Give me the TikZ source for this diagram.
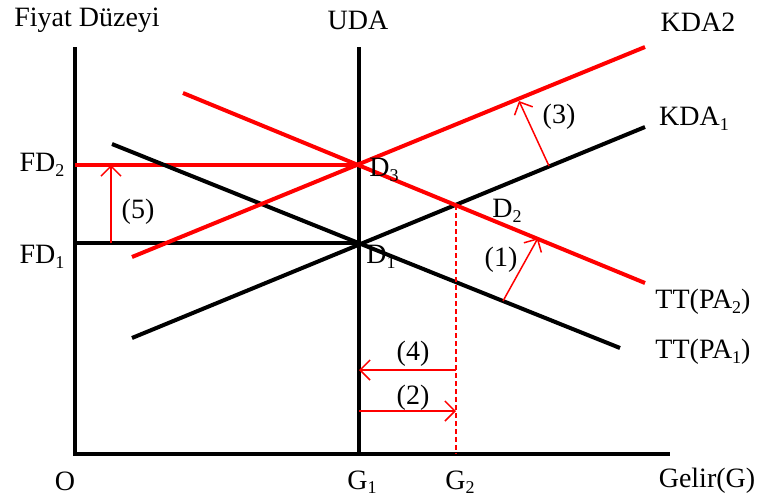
\documentclass[tikz,border=0pt]{standalone}
\usepackage{fontspec}
\setmainfont{Liberation Serif}
\usetikzlibrary{arrows.meta}
\newcommand\lowsub[1]{\raisebox{-0.35ex}{\fontsize{18}{20}\selectfont #1}}
\begin{document}
\begin{tikzpicture}[x=1pt,y=-1pt,
  lbl/.style={inner sep=0pt,font=\fontsize{28}{32}\selectfont},
  blk/.style={black,line width=4pt},
  redthick/.style={red,line width=4pt},
  shiftarrow/.style={red,line width=1.5pt,-{Straight Barb[length=10pt,width=20pt,line width=1.5pt]}},
  dashline/.style={red,line width=1.5pt,dash pattern=on 5pt off 3pt}]
\useasboundingbox (0,0) rectangle (759,498);
% coordinates
\coordinate (ytop) at (75,47);
\coordinate (O) at (75,454);
\coordinate (xend) at (670,454);
\coordinate (udatop) at (359,47);
\coordinate (G1) at (359,454);
\coordinate (G2) at (456,454);
\coordinate (D1) at (359,243);
\coordinate (D3) at (359,165);
\coordinate (D2) at (456,205);
\coordinate (fd1) at (75,243);
\coordinate (fd2) at (75,165);
\coordinate (tt1s) at (112,144);
\coordinate (tt1e) at (620,348);
\coordinate (tt2s) at (183,93);
\coordinate (tt2e) at (645,283);
\coordinate (k1s) at (132,338);
\coordinate (k1e) at (645,127);
\coordinate (k2s) at (132,257);
\coordinate (k2e) at (645,47);
\coordinate (a1s) at (503,301);
\coordinate (a1e) at (538,238);
\coordinate (a3s) at (549,166);
\coordinate (a3e) at (519,101);
\coordinate (a5s) at (111,243);
\coordinate (a5e) at (111,165);
\coordinate (a4s) at (456,370);
\coordinate (a4e) at (359,370);
\coordinate (a2s) at (359,411);
\coordinate (a2e) at (456,411);
% axes
\draw[blk] (ytop) -- (O) -- (xend);
\draw[blk] (udatop) -- (G1);
% price levels
\draw[blk] (fd1) -- (D1);
\draw[redthick] (fd2) -- (D3);
% curves
\draw[blk] (tt1s) -- (tt1e);
\draw[blk] (k1s) -- (k1e);
\draw[redthick] (tt2s) -- (tt2e);
\draw[redthick] (k2s) -- (k2e);
% dashed
\draw[dashline] (D2) -- (G2);
% shift arrows
\draw[shiftarrow] (a1s) -- (a1e);
\draw[shiftarrow] (a3s) -- (a3e);
\draw[shiftarrow] (a5s) -- (a5e);
\draw[shiftarrow] (a4s) -- (a4e);
\draw[shiftarrow] (a2s) -- (a2e);
% labels
\node[lbl] (tfd) at (87,20) {Fiyat Düzeyi};
\node[lbl] (tuda) at (358,20) {UDA};
\node[lbl] (tk2) at (698,22) {KDA2};
\node[lbl] (tk1) at (694,119) {KDA\lowsub{1}};
\node[lbl] (ttt2) at (703,302) {TT(PA\lowsub{2})};
\node[lbl] (ttt1) at (703,352) {TT(PA\lowsub{1})};
\node[lbl] (tgelir) at (707,481) {Gelir(G)};
\node[lbl] (tO) at (65,481) {O};
\node[lbl] (tG1) at (362,482) {G\lowsub{1}};
\node[lbl] (tG2) at (460,482) {G\lowsub{2}};
\node[lbl] (tFD2) at (42,165) {FD\lowsub{2}};
\node[lbl] (tFD1) at (42,257) {FD\lowsub{1}};
\node[lbl] (t5) at (138,212) {(5)};
\node[lbl] (tD3) at (384,170) {D\lowsub{3}};
\node[lbl] (tD2) at (507,211) {D\lowsub{2}};
\node[lbl] (tD1) at (381,257) {D\lowsub{1}};
\node[lbl] (t3) at (559,117) {(3)};
\node[lbl] (t1) at (501,260) {(1)};
\node[lbl] (t4) at (413,354) {(4)};
\node[lbl] (t2) at (413,398) {(2)};
\end{tikzpicture}
\end{document}
